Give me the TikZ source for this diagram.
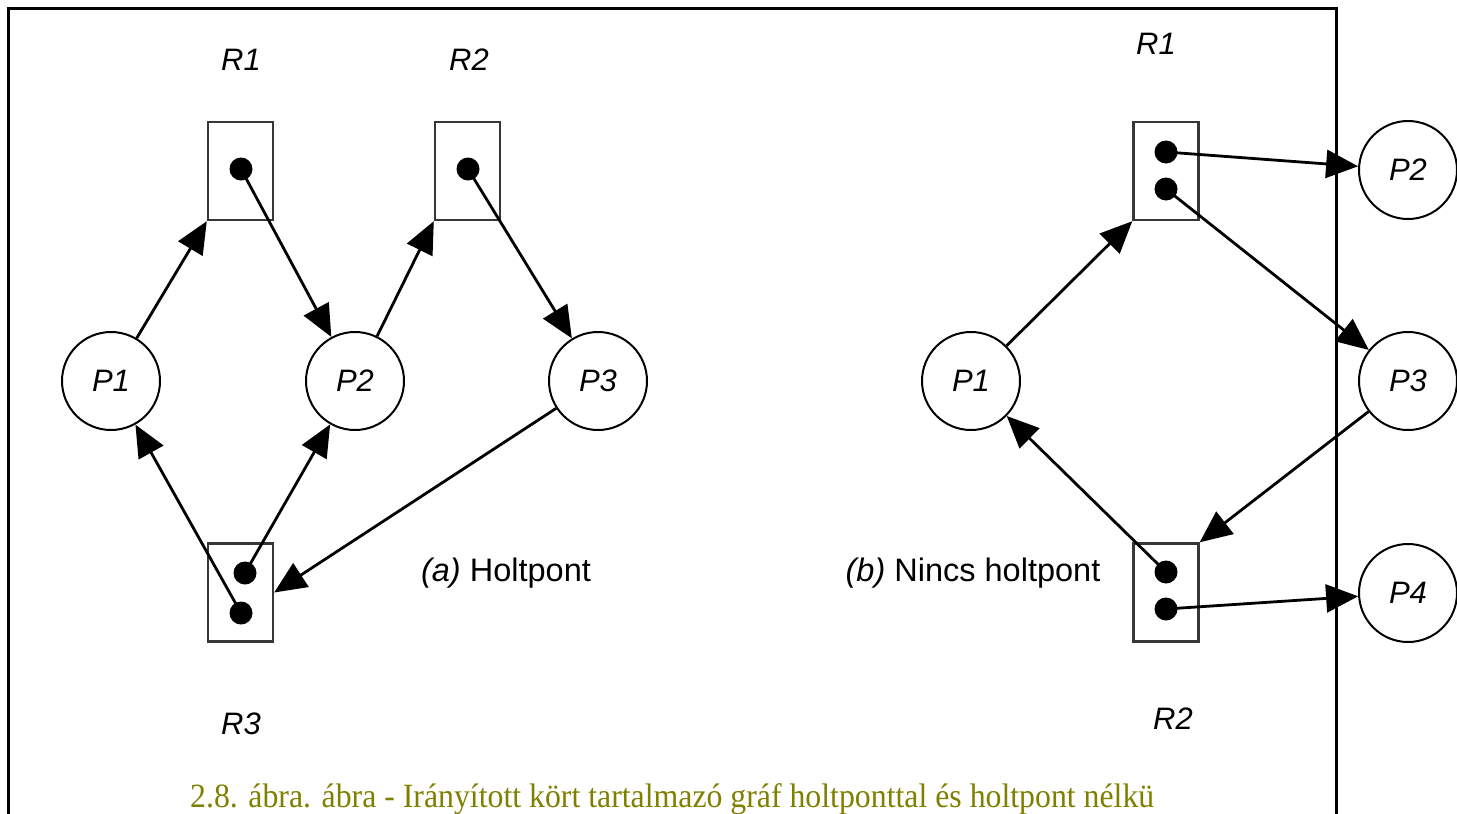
\documentclass[tikz,border=0pt]{standalone}
\usepackage{fontspec}
\usepackage{graphicx}
\usetikzlibrary{arrows.meta}
\newfontfamily\labfont{Liberation Sans}
\newfontfamily\capfont{Liberation Serif}
\definecolor{captionolive}{RGB}{128,128,0}
\definecolor{boxgray}{RGB}{55,55,55}

\tikzset{
  proc/.style={circle, draw=black, line width=2pt, minimum size=98pt, inner sep=0pt,
               font=\labfont\itshape\fontsize{31}{36}\selectfont},
  res/.style={rectangle, draw=boxgray, line width=2.4pt, minimum width=65pt,
              minimum height=98pt, inner sep=0pt},
  inst/.style={circle, fill=black, minimum size=23pt, inner sep=0pt},
  rlabel/.style={font=\labfont\itshape\fontsize{31}{36}\selectfont, inner sep=0pt},
  sublabel/.style={font=\labfont\fontsize{32.5}{38}\selectfont, inner sep=0pt},
  req/.style={line width=2.8pt, -{Triangle[length=32pt,width=28pt]}},
  frameline/.style={line width=3pt}
}

\begin{document}
\begin{tikzpicture}[x=1pt,y=-1pt]
\useasboundingbox (0,0) rectangle (1457,814);

% ---------- (a) deadlock ----------
\node[res] (aR1) at (240.5,171) {};
\node[res] (aR2) at (467.5,171) {};
\node[res] (aR3) at (240.5,592.5) {};
\node[inst] (aR1d) at (241,169) {};
\node[inst] (aR2d) at (468,169) {};
\node[inst] (aR3a) at (245,573) {};
\node[inst] (aR3b) at (241,613) {};

\node[proc] (aP1) at (111,381) {P1};
\node[proc] (aP2) at (355,381) {P2};
\node[proc] (aP3) at (598,381) {P3};

\node[rlabel] (aL1) at (241,60) {R1};
\node[rlabel] (aL2) at (469,60) {R2};
\node[rlabel] (aL3) at (241,724) {R3};
\node[sublabel] (aT) at (506,573) {\itshape (a)\upshape{} Holtpont};

\draw[req] (aP1) -- (aR1.south west);
\draw[req] (aR1d.center) -- (aP2);
\draw[req] (aP2) -- (aR2.south west);
\draw[req] (aR2d.center) -- (aP3);
\draw[req] (aR3a.center) -- (aP2);
\draw[req] (aR3b.center) -- (aP1);
\draw[req] (aP3) -- (aR3.east);

% ---------- (b) no deadlock ----------
\node[res] (bR1) at (1166,171) {};
\node[res] (bR2) at (1166,592.5) {};
\node[inst] (bR1a) at (1166,152) {};
\node[inst] (bR1b) at (1166,189) {};
\node[inst] (bR2a) at (1166,572) {};
\node[inst] (bR2b) at (1166,609) {};

\node[proc] (bP1) at (971,381) {P1};
\node[proc] (bP2) at (1408,170) {P2};
\node[proc] (bP3) at (1408,381) {P3};
\node[proc] (bP4) at (1408,593) {P4};

\node[rlabel] (bL1) at (1156,44) {R1};
\node[rlabel] (bL2) at (1173,719) {R2};
\node[sublabel] (bT) at (973,573) {\itshape (b)\upshape{} Nincs holtpont};

\draw[req] (bP1) -- (bR1.south west);
\draw[req] (bR1a.center) -- (bP2);
\draw[req] (bR1b.center) -- (bP3);
\draw[req] (bP3) -- (bR2.north east);
\draw[req] (bR2a.center) -- (bP1);
\draw[req] (bR2b.center) -- (bP4);

% ---------- frame and caption ----------
\draw[frameline] (8,820) -- (8,8) -- (1336,8) -- (1336,820);
\node[anchor=base west, inner sep=0pt, text=captionolive,
      font=\capfont\fontsize{34}{40}\selectfont] (cap) at (190,807)
  {\scalebox{0.935}[1]{2.8. ábra. ábra - Irányított kört tartalmazó gráf holtponttal és holtpont nélkü}};
\end{tikzpicture}
\end{document}
